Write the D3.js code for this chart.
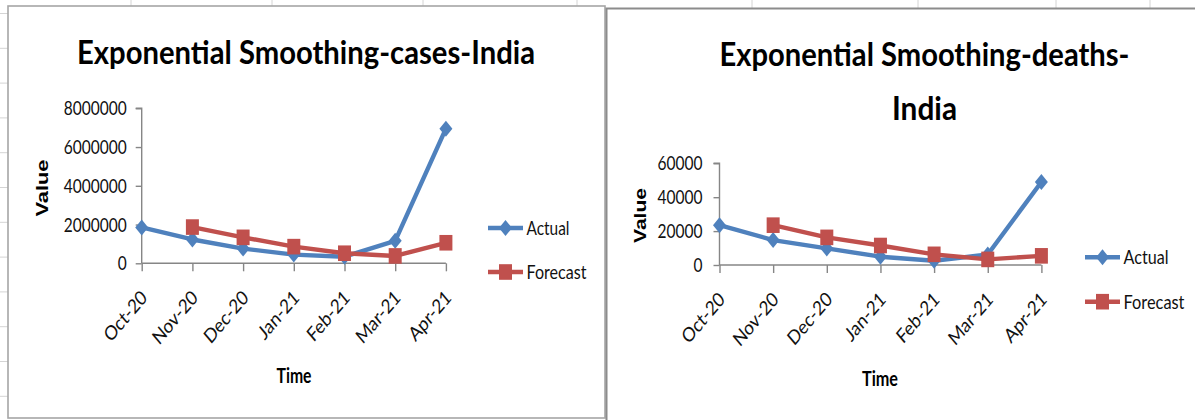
<!DOCTYPE html>
<html>
<head>
<meta charset="utf-8">
<script src="https://cdn.jsdelivr.net/npm/d3@7"></script>
<style>
  html, body { margin: 0; padding: 0; background: #ffffff; }
  svg { display: block; }
</style>
</head>
<body>
<svg id="sheet" width="1195" height="420"></svg>
<script>
// ---- data ----
const months = ["Oct-20", "Nov-20", "Dec-20", "Jan-21", "Feb-21", "Mar-21", "Apr-21"];
const seriesNames = ["Actual", "Forecast"];

const casesActual   = [1850000, 1230000, 760000, 450000, 340000, 1160000, 6950000];
const casesForecast = [null, 1870000, 1340000, 860000, 520000, 380000, 1060000];
const casesTicks    = [0, 2000000, 4000000, 6000000, 8000000];

const deathsActual   = [23500, 14700, 9800, 4900, 2500, 6200, 49000];
const deathsForecast = [null, 23500, 16300, 11500, 6300, 3300, 5400];
const deathsTicks    = [0, 20000, 40000, 60000];

const casesTitle  = ["Exponential Smoothing-cases-India"];
const deathsTitle = ["Exponential Smoothing-deaths-", "India"];
const yAxisTitle = "Value";
const xAxisTitle = "Time";

// ---- styling ----
const BLUE = "#4f81bd";
const RED = "#c0504d";
const AXIS = "#868686";
const BODY_FONT = "Lato, 'Open Sans', sans-serif";
const STRETCH = 1.18; // text in these charts is drawn slightly tall

const svg = d3.select("#sheet");

// spreadsheet gridline stubs peeking out around the chart frames
const grid = svg.append("g").attr("stroke", "#d4d4d4").attr("stroke-width", 1);
[131, 272, 423, 577].forEach(x => grid.append("line").attr("x1", x).attr("x2", x).attr("y1", 0).attr("y2", 6));
[752, 918, 1056, 1150].forEach(x => grid.append("line").attr("x1", x).attr("x2", x).attr("y1", 0).attr("y2", 8));
d3.range(12).forEach(i => {
  const y = 13.5 + i * 34.8;
  grid.append("line").attr("x1", 0).attr("x2", 8).attr("y1", y).attr("y2", y);
});

// chart frames
svg.append("rect").attr("x", 8).attr("y", 6).attr("width", 597).attr("height", 412)
  .attr("fill", "#fff").attr("stroke", "#a6a6a6").attr("stroke-width", 1.6);
svg.append("rect").attr("x", 606.5).attr("y", 8.5).attr("width", 620).attr("height", 430)
  .attr("fill", "#fff").attr("stroke", "#8c8c8c").attr("stroke-width", 2);

function diamondPath(w, h) {
  return `M0,${-h}L${w},0L0,${h}L${-w},0Z`;
}

function drawChart(cfg) {
  const g = svg.append("g");

  const x = d3.scalePoint().domain(months).range([cfg.x0, cfg.x1]);
  const y = d3.scaleLinear().domain([0, d3.max(cfg.ticks)]).range([cfg.yBottom, cfg.yTop]);

  // title
  cfg.title.forEach((t, i) => {
    const tl = cfg.titleLines[i];
    g.append("text")
      .attr("x", tl.x).attr("y", tl.y)
      .attr("text-anchor", tl.anchor)
      .attr("font-family", BODY_FONT)
      .attr("font-weight", 700)
      .attr("font-size", 33)
      .attr("textLength", tl.len)
      .attr("lengthAdjust", "spacingAndGlyphs")
      .attr("fill", "#000")
      .text(t);
  });

  // y axis
  const yAxis = g.append("g")
    .attr("transform", `translate(${cfg.x0},0)`)
    .call(d3.axisLeft(y).tickValues(cfg.ticks).tickSize(6).tickPadding(cfg.yPad).tickFormat(d3.format("d")));
  yAxis.selectAll("path, line").attr("stroke", AXIS).attr("stroke-width", 1.4);
  yAxis.select(".domain").attr("d", `M-6,${cfg.yTop}H0V${cfg.yBottom}`);
  yAxis.selectAll("text")
    .attr("font-family", BODY_FONT)
    .attr("font-size", 15.5)
    .attr("fill", "#111")
    .attr("y", 0)
    .attr("dy", "0.36em")
    .attr("transform", function () {
      const tx = d3.select(this).attr("x");
      return `translate(${tx},0) scale(1,${STRETCH}) translate(${-tx},0)`;
    });

  // x axis
  const xAxis = g.append("g")
    .attr("transform", `translate(0,${cfg.yBottom})`)
    .call(d3.axisBottom(x).tickSize(8).tickSizeOuter(0));
  xAxis.selectAll("path, line").attr("stroke", AXIS).attr("stroke-width", 1.4);
  xAxis.select(".domain").attr("d", `M${cfg.x0},0H${cfg.x1}`);
  xAxis.selectAll("text")
    .attr("font-family", BODY_FONT)
    .attr("font-size", 16.8)
    .attr("fill", "#111")
    .attr("x", 0).attr("y", 0).attr("dy", 0)
    .attr("text-anchor", "end")
    .attr("transform", `translate(6,${cfg.labelDrop}) scale(1,${STRETCH}) rotate(-45)`);

  // axis titles
  g.append("text")
    .attr("transform", `translate(${cfg.valueLabel.x},${cfg.valueLabel.y}) rotate(-90)`)
    .attr("text-anchor", "middle")
    .attr("dy", "0.36em")
    .attr("font-family", "'Liberation Sans', Arial, sans-serif")
    .attr("font-weight", 700)
    .attr("font-size", 16)
    .attr("textLength", cfg.valueLabel.len)
    .attr("lengthAdjust", "spacingAndGlyphs")
    .attr("fill", "#000")
    .text(yAxisTitle);

  g.append("text")
    .attr("x", cfg.timeLabel.x).attr("y", cfg.timeLabel.y)
    .attr("text-anchor", "middle")
    .attr("font-family", BODY_FONT)
    .attr("font-weight", 700)
    .attr("font-size", 20.5)
    .attr("textLength", cfg.timeLabel.len)
    .attr("lengthAdjust", "spacingAndGlyphs")
    .attr("fill", "#000")
    .text(xAxisTitle);

  // series lines and markers (Forecast drawn above Actual)
  const line = d3.line()
    .defined(d => d.v != null)
    .x(d => x(d.m))
    .y(d => y(d.v));

  const series = [
    { name: seriesNames[0], color: BLUE, shape: "diamond", data: months.map((m, i) => ({ m, v: cfg.actual[i] })) },
    { name: seriesNames[1], color: RED, shape: "square", data: months.map((m, i) => ({ m, v: cfg.forecast[i] })) }
  ];

  series.forEach(s => {
    const sg = g.append("g");
    sg.append("path")
      .datum(s.data)
      .attr("fill", "none")
      .attr("stroke", s.color)
      .attr("stroke-width", 4.4)
      .attr("stroke-linejoin", "round")
      .attr("d", line);
    const pts = s.data.filter(d => d.v != null);
    if (s.shape === "diamond") {
      sg.selectAll("path.mk").data(pts).join("path")
        .attr("class", "mk")
        .attr("transform", d => `translate(${x(d.m)},${y(d.v)})`)
        .attr("d", diamondPath(6.5, 8))
        .attr("fill", s.color);
    } else {
      sg.selectAll("rect.mk").data(pts).join("rect")
        .attr("class", "mk")
        .attr("x", d => x(d.m) - 6.5)
        .attr("y", d => y(d.v) - 7.8)
        .attr("width", 13).attr("height", 15.6)
        .attr("fill", s.color);
    }
  });

  // legend
  series.forEach((s, i) => {
    const ly = cfg.legend.ys[i];
    const lx = cfg.legend.x;
    const lg = g.append("g");
    lg.append("line")
      .attr("x1", lx).attr("x2", lx + 35)
      .attr("y1", ly).attr("y2", ly)
      .attr("stroke", s.color).attr("stroke-width", 4.4);
    if (s.shape === "diamond") {
      lg.append("path")
        .attr("transform", `translate(${lx + 17.5},${ly})`)
        .attr("d", diamondPath(6.5, 8))
        .attr("fill", s.color);
    } else {
      lg.append("rect")
        .attr("x", lx + 11).attr("y", ly - 7.8)
        .attr("width", 13).attr("height", 15.6)
        .attr("fill", s.color);
    }
    lg.append("text")
      .attr("x", lx + 38.5).attr("y", 0)
      .attr("dy", "0.36em")
      .attr("transform", `translate(0,${ly}) scale(1,${STRETCH})`)
      .attr("font-family", BODY_FONT)
      .attr("font-size", 16.5)
      .attr("textLength", cfg.legend.lens[i])
      .attr("lengthAdjust", "spacingAndGlyphs")
      .attr("fill", "#111")
      .text(s.name);
  });
}

drawChart({
  title: casesTitle,
  titleLines: [{ x: 77, y: 64, anchor: "start", len: 458 }],
  actual: casesActual,
  forecast: casesForecast,
  ticks: casesTicks,
  x0: 141.7, x1: 445.9,
  yTop: 108.3, yBottom: 263.3,
  yPad: 9,
  labelDrop: 35.5,
  valueLabel: { x: 42.5, y: 188, len: 57 },
  timeLabel: { x: 294, y: 383, len: 35 },
  legend: { x: 488, ys: [228, 272], lens: [43, 60] }
});

drawChart({
  title: deathsTitle,
  titleLines: [
    { x: 719.5, y: 66, anchor: "start", len: 410 },
    { x: 924.5, y: 120, anchor: "middle", len: 65 }
  ],
  actual: deathsActual,
  forecast: deathsForecast,
  ticks: deathsTicks,
  x0: 719.5, x1: 1041.4,
  yTop: 163.3, yBottom: 265,
  yPad: 11,
  labelDrop: 35.5,
  valueLabel: { x: 640.5, y: 215.5, len: 55 },
  timeLabel: { x: 880, y: 386, len: 36 },
  legend: { x: 1085, ys: [257.3, 301.7], lens: [45, 61] }
});
</script>
</body>
</html>
